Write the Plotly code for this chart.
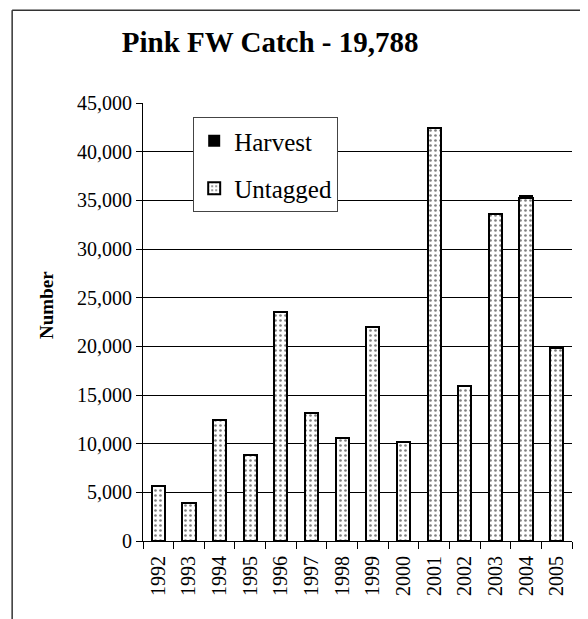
import plotly.graph_objects as go

# Pink FW catch by year
years = ["1992", "1993", "1994", "1995", "1996", "1997", "1998",
         "1999", "2000", "2001", "2002", "2003", "2004", "2005"]
untagged = [5650, 3900, 12400, 8850, 23550, 13150, 10600,
            21950, 10200, 42450, 15900, 33550, 35250, 19788]
harvest = [0, 0, 0, 0, 0, 0, 0, 0, 0, 0, 0, 0, 300, 0]

FONT = "Liberation Serif, Times New Roman, serif"

fig = go.Figure()

# bottom of the stack
fig.add_trace(go.Bar(
    x=years,
    y=untagged,
    name="Untagged",
    legendgroup="b",
    legendrank=2,
    marker=dict(
        color="white",
        line=dict(color="black", width=2),
        pattern=dict(shape=".", fgcolor="black", bgcolor="white", size=5, solidity=0.22),
    ),
))

# harvest sits on top
fig.add_trace(go.Bar(
    x=years,
    y=harvest,
    name="Harvest",
    legendgroup="a",
    legendrank=1,
    marker=dict(color="black", line=dict(width=0)),
))

# outer chart frame (only top and left edges are visible)
frame = [
    dict(type="line", xref="paper", yref="paper", x0=-0.305, x1=1.1, y0=1.212, y1=1.212),
    dict(type="line", xref="paper", yref="paper", x0=-0.305, x1=-0.305, y0=1.212, y1=-0.25),
]
for s in frame:
    s["line"] = dict(color="#333333", width=1.5)

# page body adds 8px on the left/top, so the figure is 8px smaller
fig.update_layout(
    barmode="stack",
    bargap=0.57,
    width=580,
    height=611,
    margin=dict(l=135, r=16, t=95, b=78),
    paper_bgcolor="white",
    plot_bgcolor="white",
    font=dict(family=FONT, color="black", size=20),
    title=dict(
        text="<b>Pink FW Catch - 19,788</b>",
        font=dict(family=FONT, size=29, color="black"),
        x=0.452, xanchor="center",
        y=0.944, yanchor="middle",
    ),
    showlegend=True,
    legend=dict(
        x=0.117, y=0.968, xanchor="left", yanchor="top",
        bgcolor="white",
        bordercolor="#444444",
        borderwidth=1,
        font=dict(family=FONT, size=25, color="black"),
        traceorder="grouped",
        tracegroupgap=12,
    ),
    xaxis=dict(
        type="category",
        tickangle=-90,
        tickson="boundaries",
        ticks="outside",
        ticklen=7,
        tickcolor="black",
        ticklabelstandoff=6,
        showline=True,
        linecolor="black",
        linewidth=1,
        showgrid=False,
        tickfont=dict(family=FONT, size=20, color="black"),
    ),
    yaxis=dict(
        range=[0, 45000],
        dtick=5000,
        tickformat=",",
        ticks="outside",
        ticklen=6,
        tickcolor="black",
        showline=True,
        linecolor="black",
        linewidth=1,
        showgrid=True,
        gridcolor="black",
        gridwidth=1,
        zeroline=False,
        tickfont=dict(family=FONT, size=20, color="black"),
    ),
    shapes=frame,
    annotations=[
        dict(
            text="<b>Number</b>",
            xref="paper", yref="paper",
            x=-0.225, y=0.54,
            xanchor="center", yanchor="middle",
            textangle=-90,
            showarrow=False,
            font=dict(family=FONT, size=19, color="black"),
        )
    ],
)

fig.write_html("out.html")
